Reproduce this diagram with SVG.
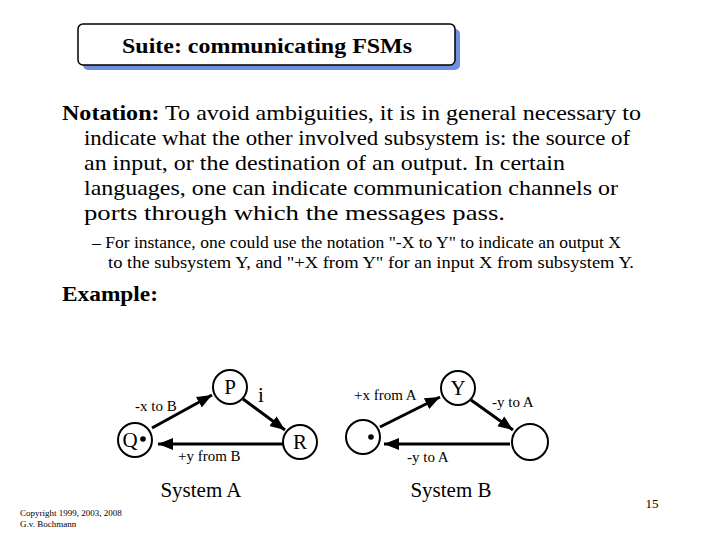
<svg xmlns="http://www.w3.org/2000/svg" width="720" height="540" viewBox="0 0 720 540">
<defs>
<marker id="ah" viewBox="0 0 10 10" refX="10" refY="5" markerWidth="5" markerHeight="5" orient="auto"><path d="M0,1 L10,5 L0,9 z" fill="#000"/></marker>
</defs>
<style>
text{font-family:"Liberation Serif",serif;fill:#000}
.c{fill:#fff;stroke:#000;stroke-width:2}
.e{stroke:#000;stroke-width:3;fill:none;marker-end:url(#ah)}
.b{font-size:22px}
.s{font-size:16px}
.l{font-size:15px}
</style>
<rect width="720" height="540" fill="#fff"/>
<g id="title">
<rect x="83" y="29" width="377" height="41" rx="5" fill="#6f8fe0"/>
<rect x="78" y="24" width="377" height="41" rx="5" fill="#fff" stroke="#000" stroke-width="1.5"/>
<text x="122" y="53" font-size="21" font-weight="bold" textLength="290" lengthAdjust="spacingAndGlyphs">Suite: communicating FSMs</text>
</g>
<g id="body">
<text x="62" y="120" class="b" textLength="579" lengthAdjust="spacingAndGlyphs"><tspan font-weight="bold">Notation:</tspan> To avoid ambiguities, it is in general necessary to</text>
<text x="84" y="145" class="b" textLength="546" lengthAdjust="spacingAndGlyphs">indicate what the other involved subsystem is: the source of</text>
<text x="84" y="170" class="b" textLength="481" lengthAdjust="spacingAndGlyphs">an input, or the destination of an output. In certain</text>
<text x="84" y="195" class="b" textLength="534" lengthAdjust="spacingAndGlyphs">languages, one can indicate communication channels or</text>
<text x="84" y="220" class="b" textLength="421" lengthAdjust="spacingAndGlyphs">ports through which the messages pass.</text>
<text x="92" y="248" class="s" textLength="529" lengthAdjust="spacingAndGlyphs">– For instance, one could use the notation "-X to Y" to indicate an output X</text>
<text x="108" y="268" class="s" textLength="526" lengthAdjust="spacingAndGlyphs">to the subsystem Y, and "+X from Y" for an input X from subsystem Y.</text>
<text x="62" y="301" class="b" font-weight="bold" textLength="96" lengthAdjust="spacingAndGlyphs">Example:</text>
</g>
<g id="connectors">
<line x1="152" y1="428" x2="212" y2="395" class="e"/>
<line x1="243" y1="399" x2="285" y2="430" class="e"/>
<line x1="283" y1="444" x2="158" y2="444" class="e"/>
<line x1="380" y1="427" x2="440" y2="397" class="e"/>
<line x1="471" y1="400" x2="513" y2="430" class="e"/>
<line x1="510" y1="444" x2="384" y2="444" class="e"/>
</g>
<g id="nodeP"><circle cx="230" cy="387" r="17" class="c"/><text x="230" y="394" text-anchor="middle" font-size="21">P</text></g>
<g id="nodeQ"><circle cx="135" cy="440" r="17" class="c"/><text x="130" y="447" text-anchor="middle" font-size="21">Q</text><circle cx="143" cy="439" r="2.8" fill="#000"/></g>
<g id="nodeR"><circle cx="300" cy="442" r="17" class="c"/><text x="300" y="449" text-anchor="middle" font-size="21">R</text></g>
<g id="nodeB0"><circle cx="363" cy="437" r="17" class="c"/><circle cx="371" cy="437" r="2.8" fill="#000"/></g>
<g id="nodeY"><circle cx="458" cy="388" r="17" class="c"/><text x="458" y="395" text-anchor="middle" font-size="21">Y</text></g>
<g id="nodeB2"><circle cx="530" cy="442" r="18" class="c"/></g>
<g id="labels">
<text x="135" y="411" class="l">-x to B</text>
<text x="258" y="402" font-size="21">i</text>
<text x="178" y="461" class="l">+y from B</text>
<text x="201" y="497" font-size="21" text-anchor="middle">System A</text>
<text x="354" y="400" class="l">+x from A</text>
<text x="492" y="407" class="l">-y to A</text>
<text x="407" y="462" class="l">-y to A</text>
<text x="451" y="497" font-size="21" text-anchor="middle">System B</text>
<text x="20" y="516" font-family="Liberation Sans,sans-serif" font-size="9">Copyright 1999, 2003, 2008</text>
<text x="20" y="527" font-family="Liberation Sans,sans-serif" font-size="9">G.v. Bochmann</text>
<text x="652" y="508" font-size="13" text-anchor="middle">15</text>
</g>
</svg>
